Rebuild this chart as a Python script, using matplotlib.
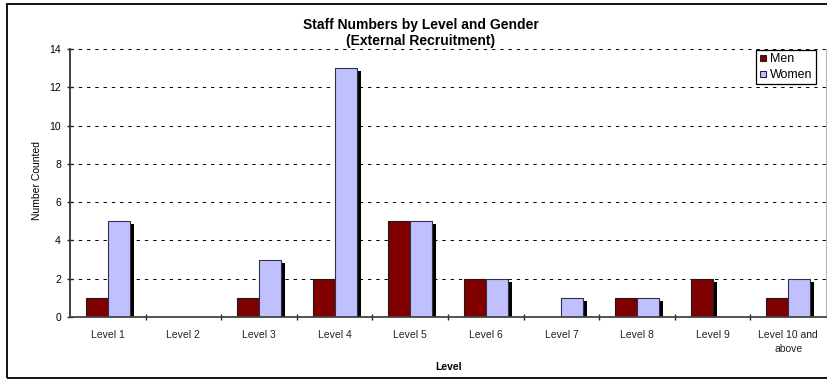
import matplotlib
matplotlib.use("Agg")
import matplotlib.pyplot as plt
from matplotlib.transforms import offset_copy
from matplotlib.lines import Line2D
from matplotlib.patches import Rectangle
import numpy as np

plt.rcParams['font.family'] = ['Liberation Sans', 'DejaVu Sans']

levels = ["Level 1", "Level 2", "Level 3", "Level 4", "Level 5",
          "Level 6", "Level 7", "Level 8", "Level 9", "Level 10 and\nabove"]
men = [1, 0, 1, 2, 5, 2, 0, 1, 2, 1]
women = [5, 0, 3, 13, 5, 2, 1, 1, 0, 2]
series_names = ["Men", "Women"]
men_color = "#800000"
women_color = "#C0C0FF"

W, H = 828, 379
fig = plt.figure(figsize=(W / 100, H / 100), dpi=100)
ax = fig.add_axes([70 / W, 62 / H, (826 - 70) / W, (317 - 49) / H])

x = np.arange(len(levels))
bw = 0.29

# drop shadows behind every bar
shadow_tr = offset_copy(ax.transData, fig=fig, x=4, y=-3, units='dots')
for off, vals in ((-bw / 2, men), (bw / 2, women)):
    ax.bar(x + off, vals, bw, color='black', transform=shadow_tr, zorder=2,
           linewidth=0)

ax.bar(x - bw / 2, men, bw, color=men_color, edgecolor='#1a1a1a',
       linewidth=0.8, zorder=3)
ax.bar(x + bw / 2, women, bw, color=women_color, edgecolor='#30304a',
       linewidth=0.8, zorder=3)

ax.set_xlim(-0.5, len(levels) - 0.5)
ax.set_ylim(0, 14)
ax.set_yticks(np.arange(0, 15, 2))
ax.yaxis.grid(True, color='black', linestyle=(0, (3.5, 5)), linewidth=0.7)
ax.set_axisbelow(True)

ax.set_xticks(x)
ax.set_xticklabels(levels, fontsize=7.5, linespacing=1.6)
ax.set_xticks(np.arange(0.5, len(levels) - 0.5, 1), minor=True)
ax.tick_params(axis='x', which='major', length=0, pad=9, colors='#222222')
ax.tick_params(axis='x', which='minor', length=5, direction='inout',
               color='#222222', width=1)
ax.tick_params(axis='y', length=5, direction='inout', width=1,
               labelsize=7.5, pad=4, color='#222222')

ax.spines['top'].set_visible(False)
ax.spines['left'].set_color('#333333')
ax.spines['left'].set_linewidth(1.3)
ax.spines['bottom'].set_color('#444444')
ax.spines['bottom'].set_linewidth(1.3)
ax.spines['bottom'].set_zorder(4)
ax.spines['right'].set_color('#b8b8b8')
ax.spines['right'].set_linewidth(0.8)

fig.text(421 / W, 1 - 33 / H, "Staff Numbers by Level and Gender\n(External Recruitment)",
         ha='center', va='center', fontsize=10, fontweight='bold', linespacing=1.15)
fig.text(449 / W, 1 - 367 / H, "Level", ha='center', va='center',
         fontsize=7.5, fontweight='bold')
fig.text(37 / W, 1 - 180 / H, "Number Counted", ha='center', va='center',
         rotation=90, fontsize=7.5)

handles = [Line2D([], [], marker='s', linestyle='none', markersize=5,
                  markerfacecolor=men_color, markeredgecolor='#222222', markeredgewidth=0.8),
           Line2D([], [], marker='s', linestyle='none', markersize=5,
                  markerfacecolor=women_color, markeredgecolor='#222244', markeredgewidth=0.8)]
leg = fig.legend(handles, series_names, loc='upper right',
                 bbox_to_anchor=(816 / W, 1 - 50 / H), fontsize=9,
                 frameon=True, fancybox=False, framealpha=1, edgecolor='black',
                 borderpad=0.25, handlelength=0.6, handletextpad=0.3,
                 labelspacing=0.3, borderaxespad=0)
leg.get_frame().set_linewidth(0.9)

# outer chart frame
fig.patches.append(Rectangle((7 / W, 1.5 / H), 1.2, (375 - 1.5) / H,
                             transform=fig.transFigure, fill=False,
                             edgecolor='black', linewidth=1.3))

fig.savefig("out.png", dpi=100)
